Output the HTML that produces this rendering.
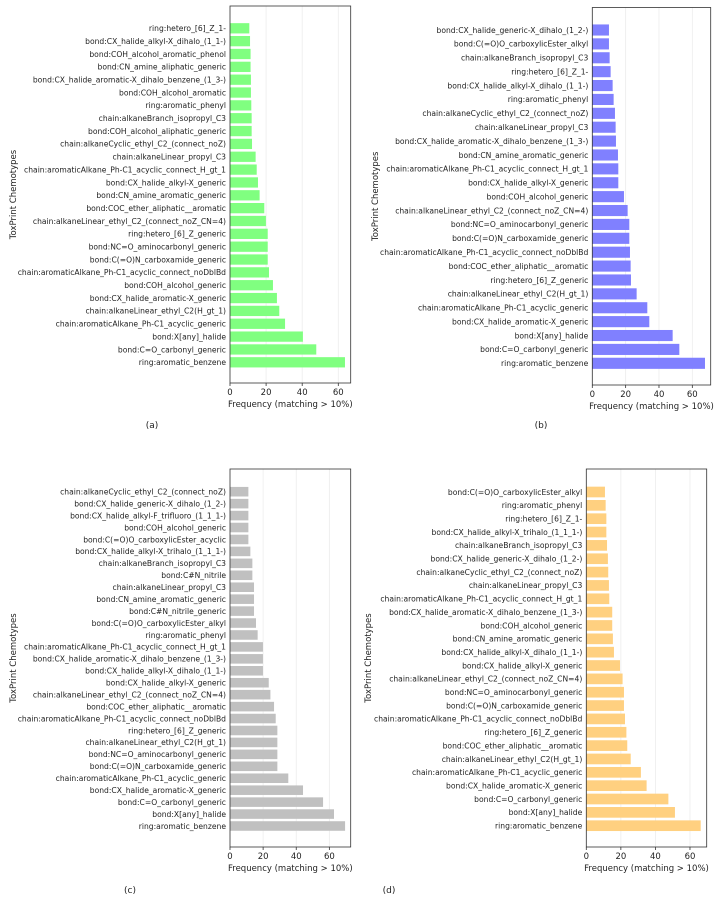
<!DOCTYPE html>
<html><head><meta charset="utf-8">
<style>
body{margin:0;background:#fff;}
svg{display:block;font-family:"DejaVu Sans","Liberation Sans",sans-serif;}
</style></head>
<body>
<svg id="fig" width="719" height="903" viewBox="0 0 719 903"></svg>
<script>
const catsA=["ring:hetero_[6]_Z_1-","bond:CX_halide_alkyl-X_dihalo_(1_1-)","bond:COH_alcohol_aromatic_phenol","bond:CN_amine_aliphatic_generic","bond:CX_halide_aromatic-X_dihalo_benzene_(1_3-)","bond:COH_alcohol_aromatic","ring:aromatic_phenyl","chain:alkaneBranch_isopropyl_C3","bond:COH_alcohol_aliphatic_generic","chain:alkaneCyclic_ethyl_C2_(connect_noZ)","chain:alkaneLinear_propyl_C3","chain:aromaticAlkane_Ph-C1_acyclic_connect_H_gt_1","bond:CX_halide_alkyl-X_generic","bond:CN_amine_aromatic_generic","bond:COC_ether_aliphatic__aromatic","chain:alkaneLinear_ethyl_C2_(connect_noZ_CN=4)","ring:hetero_[6]_Z_generic","bond:NC=O_aminocarbonyl_generic","bond:C(=O)N_carboxamide_generic","chain:aromaticAlkane_Ph-C1_acyclic_connect_noDblBd","bond:COH_alcohol_generic","bond:CX_halide_aromatic-X_generic","chain:alkaneLinear_ethyl_C2(H_gt_1)","chain:aromaticAlkane_Ph-C1_acyclic_generic","bond:X[any]_halide","bond:C=O_carbonyl_generic","ring:aromatic_benzene"];
const valsA=[10.7,11.1,11.4,11.4,11.6,11.6,11.8,12,12,12.2,14.2,14.8,15.5,16.4,19,19.9,20.9,20.9,20.9,21.6,23.8,26,27.3,30.5,40.4,47.8,63.7];
const catsB=["bond:CX_halide_generic-X_dihalo_(1_2-)","bond:C(=O)O_carboxylicEster_alkyl","chain:alkaneBranch_isopropyl_C3","ring:hetero_[6]_Z_1-","bond:CX_halide_alkyl-X_dihalo_(1_1-)","ring:aromatic_phenyl","chain:alkaneCyclic_ethyl_C2_(connect_noZ)","chain:alkaneLinear_propyl_C3","bond:CX_halide_aromatic-X_dihalo_benzene_(1_3-)","bond:CN_amine_aromatic_generic","chain:aromaticAlkane_Ph-C1_acyclic_connect_H_gt_1","bond:CX_halide_alkyl-X_generic","bond:COH_alcohol_generic","chain:alkaneLinear_ethyl_C2_(connect_noZ_CN=4)","bond:NC=O_aminocarbonyl_generic","bond:C(=O)N_carboxamide_generic","chain:aromaticAlkane_Ph-C1_acyclic_connect_noDblBd","bond:COC_ether_aliphatic__aromatic","ring:hetero_[6]_Z_generic","chain:alkaneLinear_ethyl_C2(H_gt_1)","chain:aromaticAlkane_Ph-C1_acyclic_generic","bond:CX_halide_aromatic-X_generic","bond:X[any]_halide","bond:C=O_carbonyl_generic","ring:aromatic_benzene"];
const valsB=[10,10,10.4,11,12.2,12.8,13.6,14,14.2,15.4,15.6,15.6,19,21.2,22.2,22.2,22.6,23,23.2,26.6,33,34.2,48.2,52.2,67.6];
const catsC=["chain:alkaneCyclic_ethyl_C2_(connect_noZ)","bond:CX_halide_generic-X_dihalo_(1_2-)","bond:CX_halide_alkyl-F_trifluoro_(1_1_1-)","bond:COH_alcohol_generic","bond:C(=O)O_carboxylicEster_acyclic","bond:CX_halide_alkyl-X_trihalo_(1_1_1-)","chain:alkaneBranch_isopropyl_C3","bond:C#N_nitrile","chain:alkaneLinear_propyl_C3","bond:CN_amine_aromatic_generic","bond:C#N_nitrile_generic","bond:C(=O)O_carboxylicEster_alkyl","ring:aromatic_phenyl","chain:aromaticAlkane_Ph-C1_acyclic_connect_H_gt_1","bond:CX_halide_aromatic-X_dihalo_benzene_(1_3-)","bond:CX_halide_alkyl-X_dihalo_(1_1-)","bond:CX_halide_alkyl-X_generic","chain:alkaneLinear_ethyl_C2_(connect_noZ_CN=4)","bond:COC_ether_aliphatic__aromatic","chain:aromaticAlkane_Ph-C1_acyclic_connect_noDblBd","ring:hetero_[6]_Z_generic","chain:alkaneLinear_ethyl_C2(H_gt_1)","bond:NC=O_aminocarbonyl_generic","bond:C(=O)N_carboxamide_generic","chain:aromaticAlkane_Ph-C1_acyclic_generic","bond:CX_halide_aromatic-X_generic","bond:C=O_carbonyl_generic","bond:X[any]_halide","ring:aromatic_benzene"];
const valsC=[11.1,11.1,11.1,11.1,11.1,12.3,13.5,13.5,14.5,14.5,14.5,15.7,16.7,19.9,19.9,19.9,23.4,24.4,26.6,27.6,28.6,28.6,28.6,28.6,35.2,44.1,56.2,62.8,69.5];
const catsD=["bond:C(=O)O_carboxylicEster_alkyl","ring:aromatic_phenyl","ring:hetero_[6]_Z_1-","bond:CX_halide_alkyl-X_trihalo_(1_1_1-)","chain:alkaneBranch_isopropyl_C3","bond:CX_halide_generic-X_dihalo_(1_2-)","chain:alkaneCyclic_ethyl_C2_(connect_noZ)","chain:alkaneLinear_propyl_C3","chain:aromaticAlkane_Ph-C1_acyclic_connect_H_gt_1","bond:CX_halide_aromatic-X_dihalo_benzene_(1_3-)","bond:COH_alcohol_generic","bond:CN_amine_aromatic_generic","bond:CX_halide_alkyl-X_dihalo_(1_1-)","bond:CX_halide_alkyl-X_generic","chain:alkaneLinear_ethyl_C2_(connect_noZ_CN=4)","bond:NC=O_aminocarbonyl_generic","bond:C(=O)N_carboxamide_generic","chain:aromaticAlkane_Ph-C1_acyclic_connect_noDblBd","ring:hetero_[6]_Z_generic","bond:COC_ether_aliphatic__aromatic","chain:alkaneLinear_ethyl_C2(H_gt_1)","chain:aromaticAlkane_Ph-C1_acyclic_generic","bond:CX_halide_aromatic-X_generic","bond:C=O_carbonyl_generic","bond:X[any]_halide","ring:aromatic_benzene"];
const valsD=[10.8,11.2,11.6,11.6,12,12.5,12.7,13.1,13.3,15,15,15.4,16,19.5,21,21.8,21.8,22.4,23.2,23.7,25.7,31.6,34.9,47.5,51.3,66.2];
const ticks=[0,20,40,60];

const NS="http://www.w3.org/2000/svg";
const svg=document.getElementById('fig');
function mk(tag,attrs,parent){const e=document.createElementNS(NS,tag);for(const k in attrs)e.setAttribute(k,attrs[k]);(parent||svg).appendChild(e);return e;}

function panel(id,cats,vals,color,L,R,T,B,y0c,y1c,pxPerUnit,yTitleX,capX,capY,capLabel){
  const g=mk('g',{});
  
  
  const xs=v=>L+v*pxPerUnit;
  const n=cats.length;
  const step=(y1c-y0c)/(n-1);
  const ys=i=>y0c+i*step;
  const bh=step*0.8;
  ticks.forEach(t=>{
    const gl=mk('line',{x1:xs(t),x2:xs(t),y1:T,y2:B,stroke:'#ececec','stroke-width':0.8},g);
    
    
  });
  cats.forEach((c,i)=>{
    const r=mk('rect',{x:L,y:ys(i)-bh/2,width:xs(vals[i])-L,height:bh,fill:color},g);
    
    
    const t=mk('text',{x:L-4,y:ys(i)+2.8,'text-anchor':'end','font-size':7.6,fill:'#222'},g);
    t.textContent=c;
    
    
  });
  const fr=mk('rect',{x:L,y:T,width:R-L,height:B-T,fill:'none',stroke:'#333','stroke-width':0.8},g);
  
  
  ticks.forEach(t=>{
    mk('line',{x1:xs(t),x2:xs(t),y1:B,y2:B+3,stroke:'#333','stroke-width':0.8},g);
    const tl=mk('text',{x:xs(t),y:B+12,'text-anchor':'middle','font-size':8.5,fill:'#222'},g);
    tl.textContent=t;
    
    
  });
  const xt=mk('text',{x:(L+R)/2,y:B+24,'text-anchor':'middle','font-size':8.5,fill:'#222'},g);
  xt.textContent='Frequency (matching > 10%)';
  
  
  const cy=(T+B)/2;
  const yt=mk('text',{x:yTitleX,y:cy,'text-anchor':'middle','font-size':8.5,fill:'#222',transform:`rotate(-90 ${yTitleX} ${cy})`},g);
  yt.textContent='ToxPrint Chemotypes';
  
  
  const cp=mk('text',{x:capX,y:capY,'text-anchor':'middle','font-size':9,fill:'#222'},g);
  cp.textContent=capLabel;
  
  
}
panel('a',catsA,valsA,'#80ff80',230,350.7,6,383,28.3,362.3,1.805,16,152,428,'(a)');
panel('b',catsB,valsB,'#8080ff',592.3,710.7,7.5,385,30,363.3,1.667,378,541,428,'(b)');
panel('c',catsC,valsC,'#c0c0c0',230,350.7,469,847,491.7,826,1.656,16,130,893,'(c)');
panel('d',catsD,valsD,'#ffd080',586.3,706.7,469,847,492,825.7,1.728,371,389,893,'(d)');
</script>
</body></html>
